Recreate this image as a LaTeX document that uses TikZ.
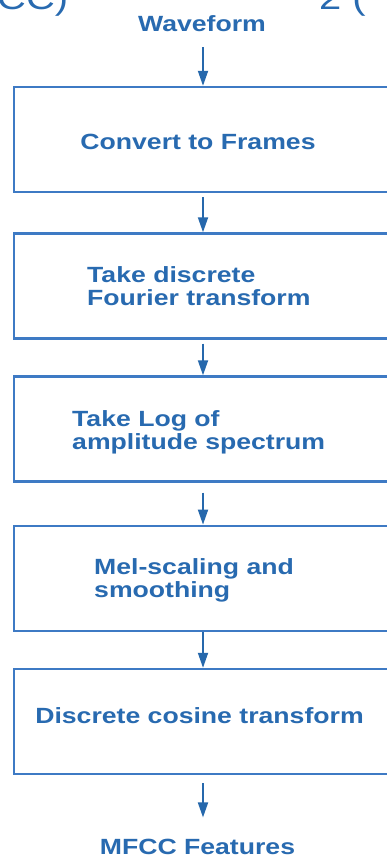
\documentclass[tikz,border=0pt]{standalone}
\usepackage{fontspec}
\setmainfont{Liberation Sans}[FakeStretch=1.21]
\usetikzlibrary{arrows.meta}
\definecolor{txtblue}{RGB}{40,106,176}
\definecolor{lineblue}{RGB}{62,122,196}
\definecolor{arrblue}{RGB}{38,104,172}
\tikzset{
  stepbox/.style={draw=lineblue, line width=2.4pt, minimum width=378pt, minimum height=105pt, inner sep=0pt},
  lbl/.style={text=txtblue, font=\fontsize{22}{23}\selectfont\bfseries, inner sep=0pt, align=left},
  ttl/.style={text=txtblue, font=\fontsize{33}{33}\selectfont, inner sep=0pt, anchor=base west},
  flow/.style={draw=arrblue, line width=1.8pt, -{Triangle[width=10pt,length=15pt]}},
}
\begin{document}
\begin{tikzpicture}[x=1pt,y=-1pt]
\clip (0,0) rectangle (387,857);
\fill[white] (0,0) rectangle (387,857);
% title fragments
\node[ttl] (ttl1) at (-3,9) {CC)};
\node[ttl] (ttl2) at (319,9) {2 (};
% boxes
\node[stepbox] (b1) at (203,139.5) {};
\node[stepbox] (b2) at (203,286) {};
\node[stepbox] (b3) at (203,429) {};
\node[stepbox] (b4) at (203,578.3) {};
\node[stepbox] (b5) at (203,721.5) {};
% texts
\node[lbl, anchor=base] (wave) at (202,31) {Waveform};
\node[lbl, anchor=base] (t1) at (198,149) {Convert to Frames};
\node[lbl, anchor=base west] (t2) at (87,305) {Take discrete\\Fourier transform};
\node[lbl, anchor=base west] (t3) at (72,449) {Take Log of\\amplitude spectrum};
\node[lbl, anchor=base west] (t4) at (94,597) {Mel-scaling and\\smoothing};
\node[lbl, anchor=base] (t5) at (199.5,723) {Discrete cosine transform};
\node[lbl, anchor=base] (out) at (197.5,854) {MFCC Features};
% arrows
\draw[flow, shorten <=16pt] (wave.south -| b1.north) -- (b1.north);
\draw[flow, shorten <=4pt] (b1.south) -- (b2.north);
\draw[flow, shorten <=4pt] (b2.south) -- (b3.north);
\draw[flow, shorten <=10pt] (b3.south) -- (b4.north);
\draw[flow] (b4.south) -- (b5.north);
\draw[flow, shorten <=8pt, shorten >=21pt] (b5.south) -- (out.north -| b5.south);
\end{tikzpicture}
\end{document}
